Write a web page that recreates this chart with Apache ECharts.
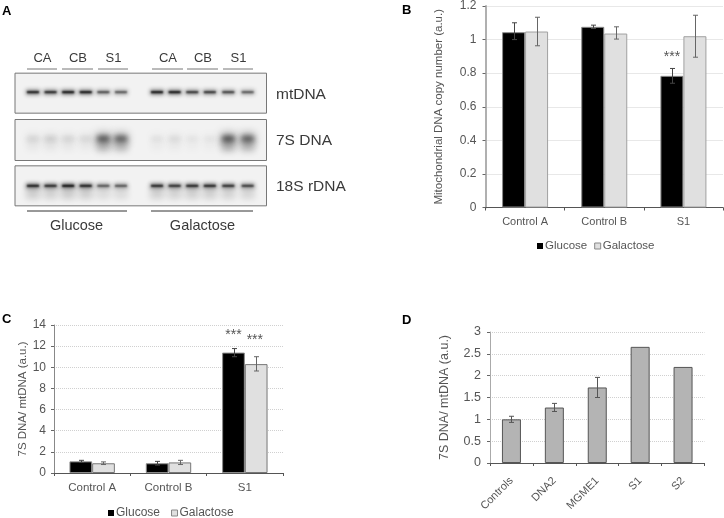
<!DOCTYPE html>
<html><head><meta charset="utf-8">
<style>html,body{margin:0;padding:0;background:#fff}#c{width:724px;height:518px}</style>
<script src="https://cdn.jsdelivr.net/npm/echarts@6/dist/echarts.min.js"></script>
</head><body><div id="c"></div>
<script>
// Panel B
const bCats = ['Control A','Control B','S1'];
const bGlucose = [1.044,1.076,0.784];
const bGalactose = [1.048,1.036,1.02];
const bGluErr = [[0,1.0,1.10],[1,1.066,1.086],[2,0.74,0.828]];
const bGalErr = [[0,0.963,1.133],[1,1.003,1.076],[2,0.895,1.145]];
// Panel C
const cCats = ['Control A','Control B','S1'];
const cGlucose = [1.1,0.92,11.39];
const cGalactose = [0.92,1.0,10.3];
const cGluErr = [[0,1.0,1.2],[1,0.75,1.1],[2,11.0,11.77]];
const cGalErr = [[0,0.8,1.05],[1,0.8,1.2],[2,9.65,11.0]];
// Panel D
const dCats = ['Controls','DNA2','MGME1','S1','S2'];
const dValues = [1.0,1.27,1.73,2.66,2.2];
const dErr = [[0,0.93,1.07],[1,1.18,1.365],[2,1.5,1.96]];
// Significance marks: [category, value]
const bStars = [[2,0.895]];
const cStarsGlu = [[2,13.06]];
const cStarsGal = [[2,12.6]];
// Panel A blot
const blotNames = ['mtDNA','7S DNA','18S rDNA'];
const lanePos = [0,1,2,3,4,5,7.05,8.05,9.05,10.05,11.1,12.2];
const mtBands = [.85,.8,.9,.9,.6,.55,.9,.9,.72,.72,.66,.55];
const sBands = [.1,.12,.1,.09,.62,.58,.06,.08,.05,.05,.65,.6];
const rBands = [.85,.78,.92,.85,.55,.55,.8,.75,.8,.8,.75,.68];
const laneGroups = ['CA','CB','S1','CA','CB','S1'];
const conditions = ['Glucose','Galactose'];

const font = '"Liberation Sans", Arial, sans-serif';
const txt = '#555';
const BLACK = '#000', LIGHT = '#e0e0e0', MID = '#b4b4b4';

function errSeries(name, data, xi, yi, off, color){
  return {name, type:'custom', xAxisIndex:xi, yAxisIndex:yi, data, z:5, silent:true,
    encode:{x:0,y:[1,2]}, clip:false,
    renderItem(p, api){
      const a = api.coord([api.value(0), api.value(1)]);
      const b = api.coord([api.value(0), api.value(2)]);
      const x = Math.round(a[0]+off)+.5, s = {stroke:color, lineWidth:1};
      return {type:'group', children:[
        {type:'line', shape:{x1:x,y1:a[1],x2:x,y2:b[1]}, style:s},
        {type:'line', shape:{x1:x-2.5,y1:a[1],x2:x+2.5,y2:a[1]}, style:s},
        {type:'line', shape:{x1:x-2.5,y1:b[1],x2:x+2.5,y2:b[1]}, style:s}]};
    }};
}
function starSeries(name, data, xi, yi, off){
  return {name, type:'custom', xAxisIndex:xi, yAxisIndex:yi, data, z:6, silent:true, clip:false,
    encode:{x:0,y:1},
    renderItem(p, api){
      const a = api.coord([api.value(0), api.value(1)]);
      return {type:'text', style:{x:a[0]+off, y:a[1], text:'***', fill:txt,
        font:'14px '+font, align:'center', verticalAlign:'middle'}};
    }};
}
function bar(name, data, xi, yi, w, fill, stroke){
  return {name, type:'bar', xAxisIndex:xi, yAxisIndex:yi, data, barWidth:w, barGap:0,
    silent:true, itemStyle:{color:fill, borderColor:stroke, borderWidth:1}};
}
function yAx(gi, max, interval, name, gap, fs, nameFs, lineColor, lineW){
  return {type:'value', gridIndex:gi, min:0, max, interval, name, nameLocation:'middle', nameGap:gap,
    nameTextStyle:{color:txt, fontFamily:font, fontSize:nameFs},
    axisLine:{show:true, lineStyle:{color:lineColor, width:lineW}},
    axisTick:{show:true, length:3, lineStyle:{color:'#666'}},
    axisLabel:{color:txt, fontFamily:font, fontSize:fs, margin:6},
    splitLine:{show:true, lineStyle:{color:'#d0d0d0', type:'dotted', width:1}}};
}
function xAx(gi, data, fs, extra){
  return {type:'category', gridIndex:gi, data,
    axisLine:{show:true, onZero:false, lineStyle:{color:'#555', width:1}},
    axisTick:{show:true, length:3, alignWithLabel:false, lineStyle:{color:'#555'}},
    axisLabel:Object.assign({color:txt, fontFamily:font, fontSize:fs, margin:9, interval:0}, extra||{}),
    splitLine:{show:false}};
}

// Blot data as [lane position, row, intensity]
const blotData = [];
[mtBands,sBands,rBands].forEach((arr,r)=>arr.forEach((v,i)=>blotData.push([lanePos[i],r,v])));
const boxData = [[0],[1],[2]];
const rowStyle = [
  {dy:-3, top:-22, bot:18, core:2.2, halo:5, blur:4, tail:0, coreBlur:2, coreA:1},
  {dy:-1, top:-20, bot:21, core:5, halo:11, blur:8, tail:1.2, coreBlur:5, coreA:.8},
  {dy:2, top:-18, bot:22, core:2.2, halo:5, blur:4, tail:.6, coreBlur:2, coreA:1}];

function renderBox(p, api){
  const r = api.value(0);
  const c = api.coord([0, blotNames[r]]);
  const st = rowStyle[r];
  return {type:'rect', shape:{x:p.coordSys.x, y:c[1]+st.top, width:p.coordSys.width, height:st.bot-st.top},
    style:{fill:'#f2f2f2', stroke:'#777', lineWidth:1}};
}
// Only the blurred shadow of an off-canvas rectangle is visible, which gives a soft band.
const OFF = 2000;
function soft(x,y,w,h,alpha,blur){
  return {type:'rect', shape:{x:x-OFF,y,width:w,height:h},
    style:{fill:'#000', shadowBlur:blur, shadowOffsetX:OFF, shadowColor:'rgba(0,0,0,'+alpha+')'}};
}
function renderBand(p, api){
  const lane = api.value(0), r = api.value(1), v = api.value(2);
  const c = api.coord([lane, blotNames[r]]);
  const st = rowStyle[r];
  const y = c[1]+st.dy, w = 14;
  const kids = [];
  if (st.tail) kids.push(soft(c[0]-w/2, y, w, 13, Math.min(1,v*.3*st.tail), 6));
  kids.push(soft(c[0]-w/2, y-st.halo/2, w, st.halo, Math.min(1,v*.55), st.blur));
  kids.push(soft(c[0]-w/2+1, y-st.core/2, w-2, st.core, Math.min(1,v*st.coreA), st.coreBlur));
  return {type:'group', children:kids};
}

const text = (x,y,t,size,extra)=>({type:'text', x, y, silent:true,
  style:Object.assign({text:t, fill:'#3a3a3a', font:size+'px '+font, textAlign:'center', textVerticalAlign:'middle'}, extra||{})});
const hline = (x1,x2,y,color)=>({type:'line', silent:true, shape:{x1,y1:y+.5,x2,y2:y+.5}, style:{stroke:color||'#777', lineWidth:1}});
const panel = (x,y,t)=>({type:'text', x, y, silent:true, style:{text:t, fill:'#000', font:'bold 13px '+font, textVerticalAlign:'middle'}});

const groupX = [[27,57],[62,93],[98,128],[152,183],[187,218],[223,253]];
const graphics = [
  panel(2,11,'A'), panel(402,10,'B'), panel(2,319,'C'), panel(402,320,'D')
];
groupX.forEach((g,i)=>{
  graphics.push(hline(g[0],g[1],68.5));
  graphics.push(text((g[0]+g[1])/2+.5,58,laneGroups[i],13));
});
[[27,127,76.5],[151,253,202.5]].forEach((g,i)=>{
  graphics.push(hline(g[0],g[1],210.5,'#333'));
  graphics.push(text(g[2],226,conditions[i],14.5));
});
[[94.5],[141],[187]].forEach((g,i)=>{
  graphics.push(text(276,g[0],blotNames[i],15.5,{textAlign:'left'}));
});

const legendBase = {selectedMode:false, orient:'horizontal', icon:'rect', itemWidth:6, itemHeight:6,
  padding:0, data:[{name:'Glucose',itemStyle:{borderWidth:0}},{name:'Galactose',itemStyle:{borderColor:'#888',borderWidth:1}}]};

const ax = (o,m)=>{o.axisLabel.margin=m; return o;};
const option = {
  animation:false, backgroundColor:'#fff',
  grid:[
    {left:15, top:73, width:251.5, height:133},
    {left:485.5, top:4, width:237.5, height:203.5},
    {left:54, top:325, width:229, height:148},
    {left:490, top:332, width:214.5, height:131}
  ],
  legend:[
    Object.assign({left:537, top:240, itemGap:7, textStyle:{color:txt, fontFamily:font, fontSize:11.5, padding:[1,0,0,-3]}}, legendBase),
    Object.assign({left:108, top:507, itemGap:11, textStyle:{color:txt, fontFamily:font, fontSize:12, padding:[1,0,0,-3]}}, legendBase)
  ],
  xAxis:[
    {type:'value', gridIndex:0, min:-1.02, max:13.27, show:false},
    xAx(1,bCats,11),
    xAx(2,cCats,11.5),
    xAx(3,dCats,11,{rotate:45, margin:16})
  ],
  yAxis:[
    {type:'category', gridIndex:0, data:blotNames, inverse:true, show:false},
    ax(yAx(1,1.2,0.2,'Mitochondrial DNA copy number (a.u.)',41,12,11.5,'#b0b0b0',2),9),
    ax(yAx(2,14,2,'7S DNA/ mtDNA (a.u.)',25,12,11.5,'#888',1),8),
    ax(yAx(3,3,0.5,'7S DNA/ mtDNA (a.u.)',39,12.5,12.5,'#aaa',1),9)
  ],
  graphic:graphics,
  series:[
    {name:'boxes', type:'custom', xAxisIndex:0, yAxisIndex:0, data:boxData, z:1, silent:true, clip:false,
      encode:{y:0}, renderItem:renderBox},
    {name:'bands', type:'custom', xAxisIndex:0, yAxisIndex:0, data:blotData, z:2, silent:true, clip:false,
      encode:{x:0}, renderItem:renderBand},
    bar('Glucose',bGlucose,1,1,23,BLACK,'#8a8a8a'),
    bar('Galactose',bGalactose,1,1,23,LIGHT,'#a0a0a0'),
    errSeries('bGluErr',bGluErr,1,1,-11.5,'#444'),
    errSeries('bGalErr',bGalErr,1,1,11.5,'#666'),
    starSeries('bS',bStars,1,1,-11.5),
    bar('Glucose',cGlucose,2,2,22.7,BLACK,'#8a8a8a'),
    bar('Galactose',cGalactose,2,2,22.7,LIGHT,'#777'),
    errSeries('cGluErr',cGluErr,2,2,-11.3,'#444'),
    errSeries('cGalErr',cGalErr,2,2,11.3,'#666'),
    starSeries('cS1',cStarsGlu,2,2,-11.3),
    starSeries('cS2',cStarsGal,2,2,10),
    bar('Ratio',dValues,3,3,19,MID,'#555'),
    errSeries('dErr',dErr,3,3,0,'#555')
  ]
};
echarts.init(document.getElementById('c'),null,{renderer:'canvas'}).setOption(option);
</script></body></html>
